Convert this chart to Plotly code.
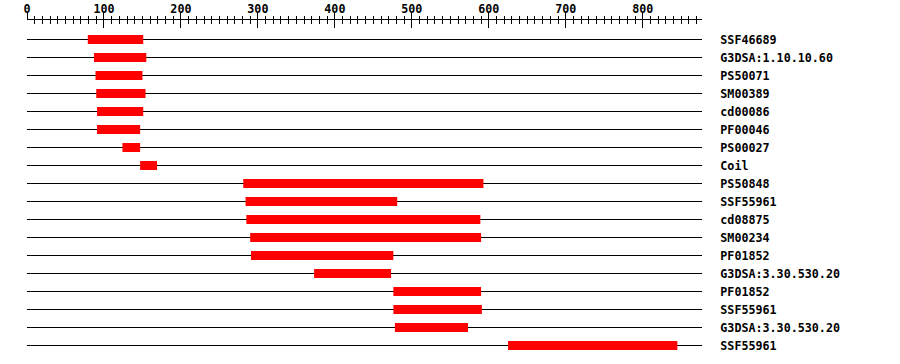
import plotly.graph_objects as go

# ---- data ----
protein_length = 877
feature_names = ["SSF46689", "G3DSA:1.10.10.60", "PS50071", "SM00389", "cd00086",
                 "PF00046", "PS00027", "Coil", "PS50848", "SSF55961", "cd08875",
                 "SM00234", "PF01852", "G3DSA:3.30.530.20", "PF01852", "SSF55961",
                 "G3DSA:3.30.530.20", "SSF55961"]
feature_starts = [79, 87, 89, 90, 91, 91, 124, 147, 281, 284, 285, 290, 291, 373, 476, 476, 478, 625]
feature_ends = [151, 155, 150, 154, 151, 147, 147, 169, 593, 481, 589, 590, 476, 473, 590, 591, 573, 845]
major_ticks = [0, 100, 200, 300, 400, 500, 600, 700, 800]

rows = list(range(len(feature_names)))
lengths = [e - s for s, e in zip(feature_starts, feature_ends)]

FONT = dict(family="DejaVu Sans Mono", size=11.7, color="black", weight="bold")

fig = go.Figure()

# red domain bars
fig.add_trace(go.Bar(
    orientation="h", y=rows, x=lengths, base=feature_starts, width=0.5,
    marker=dict(color="#ff0000", line=dict(width=0)), showlegend=False,
    hoverinfo="skip",
))
# invisible trace for the second (overlay) x axis
fig.add_trace(go.Scatter(x=[0, protein_length], y=[0, 0], mode="markers",
                         marker=dict(opacity=0), xaxis="x2", yaxis="y",
                         showlegend=False, hoverinfo="skip"))

# row baselines (below the bars)
shapes = [dict(type="line", xref="x", yref="y", x0=0, x1=protein_length, y0=r, y1=r,
               line=dict(color="black", width=1), layer="below") for r in rows]

y_top = -19.5 / 18
y_bottom = y_top + 334 / 18

fig.update_layout(
    width=900, height=364,
    margin=dict(l=27, r=198, t=20, b=10, autoexpand=False),
    paper_bgcolor="white", plot_bgcolor="white",
    barmode="overlay",
    shapes=shapes,
    font=FONT,
    xaxis=dict(
        range=[0, protein_length], side="top", anchor="y", automargin=False,
        showgrid=False, zeroline=False,
        showline=True, linecolor="black", linewidth=1,
        ticks="outside", ticklen=7, tickwidth=1, tickcolor="black",
        tickvals=major_ticks, ticktext=[str(v) for v in major_ticks],
        tickfont=FONT, ticklabelstandoff=-6,
        minor=dict(ticks="outside", ticklen=3, tickwidth=1, tickcolor="black",
                   dtick=10, tick0=0, showgrid=False),
    ),
    xaxis2=dict(
        range=[0, protein_length], side="top", anchor="y", overlaying="x",
        automargin=False,
        showgrid=False, zeroline=False, showline=False,
        ticks="inside", ticklen=8, tickwidth=1, tickcolor="black",
        tickvals=major_ticks, showticklabels=False,
        minor=dict(ticks="inside", ticklen=4, tickwidth=1, tickcolor="black",
                   dtick=10, tick0=0, showgrid=False),
    ),
    yaxis=dict(
        range=[y_bottom, y_top], side="right", automargin=False,
        showgrid=False, zeroline=False, showline=False,
        ticks="outside", ticklen=15, tickcolor="rgba(0,0,0,0)",
        tickvals=rows, ticktext=feature_names, tickfont=FONT,
    ),
)

fig.write_html("out.html")
